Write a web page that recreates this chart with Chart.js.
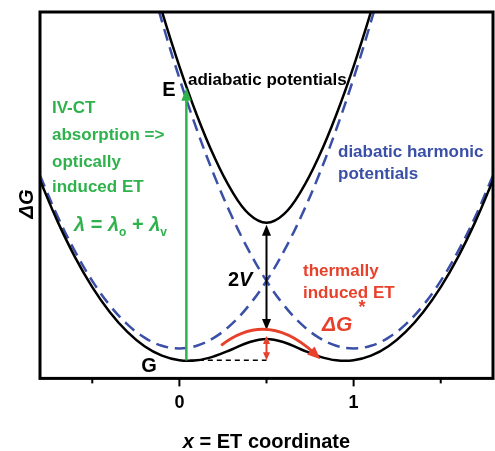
<!DOCTYPE html>
<html>
<head>
<meta charset="utf-8">
<script src="https://cdn.jsdelivr.net/npm/chart.js@4.4.1/dist/chart.umd.min.js"></script>
<style>
  html, body { margin: 0; padding: 0; background: #fff; }
  canvas { display: block; }
</style>
</head>
<body>
<canvas id="marcus" width="495" height="451"></canvas>
<script>
// ET coordinate samples and free energies
const etCoord = [-0.8, -0.7, -0.6, -0.5, -0.4, -0.3, -0.2, -0.1, 0, 0.1, 0.2, 0.3, 0.4, 0.5,
  0.6, 0.7, 0.8, 0.9, 1.0, 1.1, 1.2, 1.3, 1.4, 1.5, 1.6, 1.7, 1.8];
const diabaticLeft = [0.64, 0.49, 0.36, 0.25, 0.16, 0.09, 0.04, 0.01, 0, 0.01, 0.04, 0.09, 0.16, 0.25,
  0.36, 0.49, 0.64, 0.81, 1.0, 1.21, 1.44, 1.69, 1.96, 2.25, 2.56, 2.89, 3.24];
const diabaticRight = [3.24, 2.89, 2.56, 2.25, 1.96, 1.69, 1.44, 1.21, 1.0, 0.81, 0.64, 0.49, 0.36, 0.25,
  0.16, 0.09, 0.04, 0.01, 0, 0.01, 0.04, 0.09, 0.16, 0.25, 0.36, 0.49, 0.64];
const adiabaticLower = [0.622, 0.471, 0.339, 0.227, 0.135, 0.062, 0.008, -0.027, -0.044, -0.044, -0.029, -0.004, 0.023, 0.035,
  0.023, -0.004, -0.029, -0.044, -0.044, -0.027, 0.008, 0.062, 0.135, 0.227, 0.339, 0.471, 0.622];
const adiabaticUpper = [3.258, 2.909, 2.581, 2.273, 1.985, 1.718, 1.472, 1.247, 1.044, 0.864, 0.709, 0.584, 0.497, 0.465,
  0.497, 0.584, 0.709, 0.864, 1.044, 1.247, 1.472, 1.718, 1.985, 2.273, 2.581, 2.909, 3.258];
const xTickValues = [-0.5, 0, 0.5, 1, 1.5];
const xRange = [-0.8, 1.8];
const gRange = [-0.111, 1.245];

const FONT = '"Liberation Sans", Arial, sans-serif';
const GREEN = "#2fb24c";
const RED = "#e8412b";
const BLUE = "#3a4fa6";

const toPoints = (ys) => etCoord.map((x, i) => ({ x: x, y: ys[i] }));

function arrowHead(ctx, x, y, angle, len, w, color) {
  ctx.save();
  ctx.translate(x, y);
  ctx.rotate(angle);
  ctx.beginPath();
  ctx.moveTo(0, 0);
  ctx.lineTo(-len, -w / 2);
  ctx.lineTo(-len, w / 2);
  ctx.closePath();
  ctx.fillStyle = color;
  ctx.fill();
  ctx.restore();
}

function label(ctx, str, x, y, font, color, align) {
  ctx.font = font;
  ctx.fillStyle = color;
  ctx.textAlign = align || "left";
  ctx.textBaseline = "middle";
  ctx.fillText(str, x, y);
  return ctx.measureText(str).width;
}

// draws pieces [text, font, dy] one after another
function richLabel(ctx, pieces, x, y, color, center) {
  ctx.textBaseline = "middle";
  ctx.textAlign = "left";
  let total = 0;
  pieces.forEach((p) => { ctx.font = p[1]; total += ctx.measureText(p[0]).width; });
  let cx = center ? x - total / 2 : x;
  pieces.forEach((p) => {
    ctx.font = p[1];
    ctx.fillStyle = color;
    ctx.fillText(p[0], cx, y + (p[2] || 0));
    cx += ctx.measureText(p[0]).width;
  });
}

// minor ticks shorter than the labelled ones
const tickMarks = {
  id: "tickMarks",
  afterDraw(chart) {
    const ctx = chart.ctx;
    const sx = chart.scales.x;
    const bottom = chart.chartArea.bottom;
    ctx.save();
    ctx.strokeStyle = "#000";
    ctx.lineWidth = 2;
    xTickValues.forEach((v) => {
      const x = sx.getPixelForValue(v);
      ctx.beginPath();
      ctx.moveTo(x, bottom);
      ctx.lineTo(x, bottom + (Number.isInteger(v) ? 8 : 5));
      ctx.stroke();
    });
    ctx.restore();
  }
};

const annotations = {
  id: "annotations",
  afterDatasetsDraw(chart) {
    const ctx = chart.ctx;
    const sx = chart.scales.x, sy = chart.scales.y;
    const px = (v) => sx.getPixelForValue(v);
    const py = (v) => sy.getPixelForValue(v);
    const area = chart.chartArea;
    ctx.save();

    // optical transition G -> E
    const xG = 0.04;
    ctx.strokeStyle = GREEN;
    ctx.lineWidth = 2.5;
    ctx.beginPath();
    ctx.moveTo(px(xG), py(-0.045));
    ctx.lineTo(px(xG), py(0.93));
    ctx.stroke();
    arrowHead(ctx, px(xG), py(0.965), -Math.PI / 2, 13, 10, GREEN);

    // dashed level of G
    ctx.strokeStyle = "#000";
    ctx.lineWidth = 1.5;
    ctx.setLineDash([5, 4]);
    ctx.beginPath();
    ctx.moveTo(px(xG + 0.02), py(-0.044));
    ctx.lineTo(px(0.5), py(-0.044));
    ctx.stroke();
    ctx.setLineDash([]);

    // 2V splitting
    ctx.lineWidth = 2;
    ctx.beginPath();
    ctx.moveTo(px(0.5), py(0.43));
    ctx.lineTo(px(0.5), py(0.1));
    ctx.stroke();
    arrowHead(ctx, px(0.5), py(0.458), -Math.PI / 2, 11, 9, "#000");
    arrowHead(ctx, px(0.5), py(0.068), Math.PI / 2, 11, 9, "#000");

    // activation barrier
    ctx.strokeStyle = RED;
    ctx.lineWidth = 2;
    ctx.beginPath();
    ctx.moveTo(px(0.5), py(0.022));
    ctx.lineTo(px(0.5), py(-0.022));
    ctx.stroke();
    arrowHead(ctx, px(0.5), py(0.046), -Math.PI / 2, 8, 7, RED);
    arrowHead(ctx, px(0.5), py(-0.044), Math.PI / 2, 8, 7, RED);

    // thermal hopping arc
    const s = { x: px(0.24), y: py(0.011) };
    const a = { x: px(0.505), y: py(0.07) };
    const e = { x: px(0.775), y: py(-0.018) };
    const c = { x: 2 * a.x - (s.x + e.x) / 2, y: 2 * a.y - (s.y + e.y) / 2 };
    ctx.lineWidth = 3;
    ctx.beginPath();
    ctx.moveTo(s.x, s.y);
    ctx.quadraticCurveTo(c.x, c.y, e.x, e.y);
    ctx.stroke();
    arrowHead(ctx, e.x + 6, e.y + 6, Math.atan2(e.y - c.y, e.x - c.x), 13, 11, RED);

    // texts
    const b17 = "bold 17px " + FONT;
    const b20 = "bold 20px " + FONT;
    const bi20 = "italic bold 20px " + FONT;
    label(ctx, "adiabatic potentials", 188, 80, b17, "#000");
    label(ctx, "E", 169, 90, b20, "#000", "center");
    label(ctx, "G", 149, 366, b20, "#000", "center");
    label(ctx, "IV-CT", 52, 108, b17, GREEN);
    label(ctx, "absorption =>", 52, 135, b17, GREEN);
    label(ctx, "optically", 52, 162, b17, GREEN);
    label(ctx, "induced ET", 52, 187, b17, GREEN);
    richLabel(ctx, [
      ["\u03bb", bi20], [" = ", b20], ["\u03bb", bi20], ["o", "bold 12px " + FONT, 8],
      [" + ", b20], ["\u03bb", bi20], ["v", "bold 12px " + FONT, 8]
    ], 74, 225, GREEN, false);
    label(ctx, "diabatic harmonic", 338, 152, b17, BLUE);
    label(ctx, "potentials", 338, 174, b17, BLUE);
    richLabel(ctx, [["2", b20], ["V", bi20]], 228, 280, "#000", false);
    label(ctx, "thermally", 303, 271, b17, RED);
    label(ctx, "induced ET", 303, 293, b17, RED);
    richLabel(ctx, [["\u0394G", "italic bold 21px " + FONT]], 322, 325, RED, false);
    label(ctx, "*", 362, 308, "bold 18px " + FONT, RED, "center");

    // axis titles
    richLabel(ctx, [["x", bi20], [" = ET coordinate", b20]], (area.left + area.right) / 2, 442, "#000", true);
    ctx.save();
    ctx.translate(27, 204);
    ctx.rotate(-Math.PI / 2);
    label(ctx, "\u0394G", 0, 0, bi20, "#000", "center");
    ctx.restore();

    // frame
    ctx.strokeStyle = "#000";
    ctx.lineWidth = 3;
    ctx.strokeRect(area.left, area.top, area.right - area.left, area.bottom - area.top);
    ctx.restore();
  }
};

const curveStyle = {
  showLine: true,
  pointRadius: 0,
  tension: 0.4,
  fill: false
};

new Chart(document.getElementById("marcus"), {
  type: "scatter",
  data: {
    datasets: [
      Object.assign({ label: "adiabatic lower", data: toPoints(adiabaticLower), borderColor: "#000", borderWidth: 2.5 }, curveStyle),
      Object.assign({ label: "adiabatic upper", data: toPoints(adiabaticUpper), borderColor: "#000", borderWidth: 2.5 }, curveStyle),
      Object.assign({ label: "diabatic left", data: toPoints(diabaticLeft), borderColor: BLUE, borderWidth: 2.5, borderDash: [12, 7] }, curveStyle),
      Object.assign({ label: "diabatic right", data: toPoints(diabaticRight), borderColor: BLUE, borderWidth: 2.5, borderDash: [12, 7] }, curveStyle)
    ]
  },
  options: {
    responsive: false,
    animation: false,
    devicePixelRatio: 1,
    layout: { padding: { left: 40, right: 2, top: 12, bottom: 23 } },
    plugins: { legend: { display: false }, tooltip: { enabled: false } },
    scales: {
      x: {
        type: "linear",
        min: xRange[0],
        max: xRange[1],
        afterBuildTicks: (scale) => { scale.ticks = xTickValues.map((v) => ({ value: v })); },
        grid: { display: false, drawOnChartArea: false, drawTicks: false },
        border: { display: false },
        ticks: {
          padding: 14,
          color: "#000",
          font: { family: FONT, size: 18, weight: "bold" },
          callback: (v) => (Number.isInteger(v) ? String(v) : "")
        }
      },
      y: {
        type: "linear",
        display: false,
        min: gRange[0],
        max: gRange[1]
      }
    }
  },
  plugins: [annotations, tickMarks]
});
</script>
</body>
</html>
